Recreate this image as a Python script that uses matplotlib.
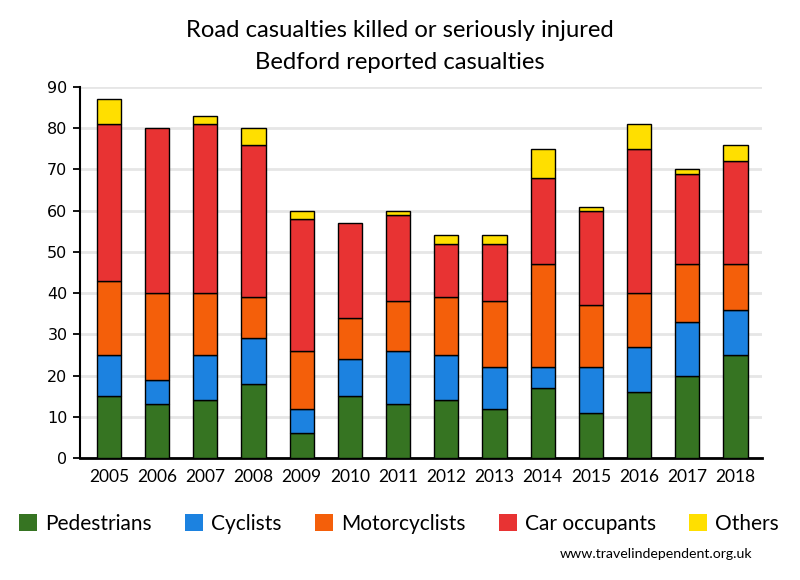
import matplotlib
matplotlib.use("Agg")
import matplotlib.pyplot as plt
import numpy as np
from matplotlib.patches import Patch

years = ["2005", "2006", "2007", "2008", "2009", "2010", "2011",
         "2012", "2013", "2014", "2015", "2016", "2017", "2018"]
pedestrians = [15, 13, 14, 18, 6, 15, 13, 14, 12, 17, 11, 16, 20, 25]
cyclists = [10, 6, 11, 11, 6, 9, 13, 11, 10, 5, 11, 11, 13, 11]
motorcyclists = [18, 21, 15, 10, 14, 10, 12, 14, 16, 25, 15, 13, 14, 11]
car_occupants = [38, 40, 41, 37, 32, 23, 21, 13, 14, 21, 23, 35, 22, 25]
others = [6, 0, 2, 4, 2, 0, 1, 2, 2, 7, 1, 6, 1, 4]

series = [("Pedestrians", pedestrians, "#367422"),
          ("Cyclists", cyclists, "#1c82e0"),
          ("Motorcyclists", motorcyclists, "#f45f0a"),
          ("Car occupants", car_occupants, "#e83333"),
          ("Others", others, "#ffdf00")]

fig = plt.figure(figsize=(8, 5.8), dpi=100)
ax = fig.add_axes([0.1, 0.2103, 0.8525, 0.6397])

x = np.arange(len(years))
bottom = np.zeros(len(years))
for name, vals, col in series:
    v = np.array(vals, dtype=float)
    nz = v > 0
    ax.bar(x[nz], v[nz], 0.5, bottom=bottom[nz], color=col, edgecolor="black",
           linewidth=1.0, zorder=3)
    bottom += v

ax.set_ylim(0, 90)
ax.set_xlim(-0.6, 13.55)
ax.set_yticks(range(0, 91, 10))
ax.yaxis.grid(True, color="#e6e6e6", linewidth=2, zorder=0)
ax.set_axisbelow(True)
ax.set_xticks(x)
ax.set_xticklabels(years, fontsize=12.5, family="Lato")
ax.tick_params(axis="x", length=0, pad=8)
ax.tick_params(axis="y", length=5, width=1.3, labelsize=11.5, pad=4, direction="out")
for lab in ax.get_yticklabels():
    lab.set_family("DejaVu Sans")
for s in ["top", "right"]:
    ax.spines[s].set_visible(False)
ax.spines["left"].set_linewidth(1.5)
ax.spines["bottom"].set_linewidth(2)

fig.text(0.5, 0.948, "Road casualties killed or seriously injured", ha="center",
         va="center", fontsize=17.2, family="Lato")
fig.text(0.5, 0.893, "Bedford reported casualties", ha="center",
         va="center", fontsize=17.2, family="Lato")

handles = [Patch(facecolor=c, edgecolor="none", label=n) for n, _, c in series]
fig.legend(handles=handles, loc="center", bbox_to_anchor=(0.499, 0.097), ncol=5,
           frameon=False, prop={"family": "Lato", "size": 15},
           handlelength=0.85, handleheight=0.85, handletextpad=0.4,
           columnspacing=1.6)

fig.text(0.94, 0.045, "www.travelindependent.org.uk", ha="right", va="center",
         fontsize=10.2, family="Lato")

fig.savefig("out.png", dpi=100)
